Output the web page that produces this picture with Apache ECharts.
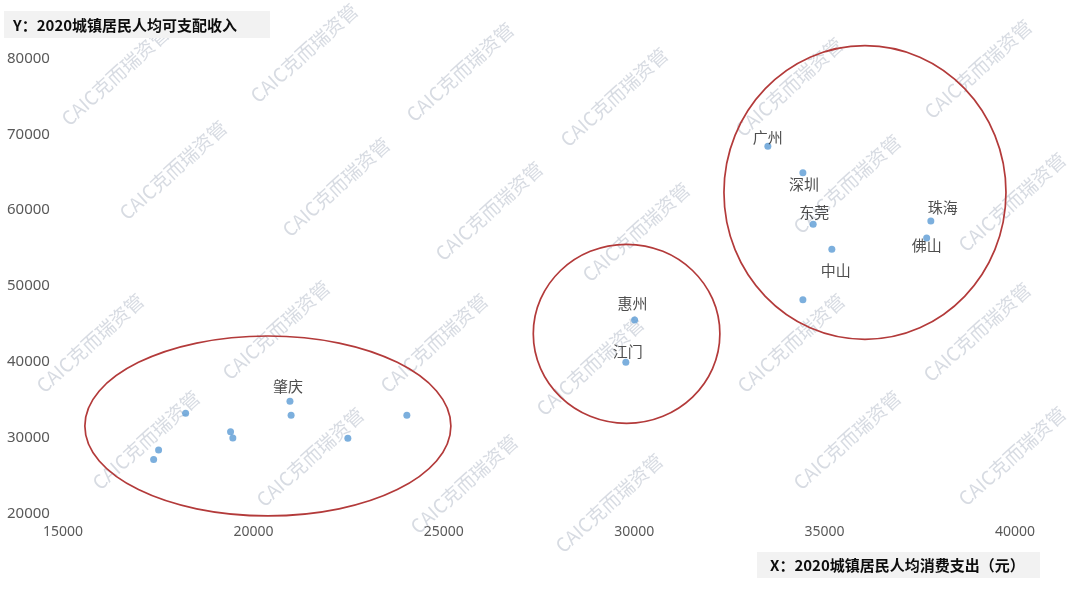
<!DOCTYPE html>
<html>
<head>
<meta charset="utf-8">
<script src="https://cdn.jsdelivr.net/npm/echarts@6/dist/echarts.min.js"></script>
<style>
html,body{margin:0;padding:0;background:#fff;}
#chart{width:1080px;height:593px;}
</style>
</head>
<body>
<div id="chart"></div>
<script>
// ---- data ----
const cityNames   = ['', '', '', '', '', '肇庆', '', '', '', '惠州', '江门', '广州', '深圳', '东莞', '中山', '', '珠海', '佛山'];
const consumption = [17380, 17510, 18220, 19400, 19460, 20960, 20990, 22480, 24030, 30010, 29780, 33510, 34430, 34700, 35190, 34430, 37790, 37680];
const income      = [27100, 28350, 33190, 30770, 29930, 34780, 32930, 29890, 32930, 45500, 39920, 68420, 64930, 58130, 54830, 48180, 58560, 56320];

// cluster ellipses (data units): centre x, centre y, radius x, radius y
const clusterCX = [20380, 29800, 36060];
const clusterCY = [31520, 43680, 62320];
const clusterRX = [4806, 2450, 3703];
const clusterRY = [11870, 11810, 19370];

const xTitle = 'X：2020城镇居民人均消费支出（元）';
const yTitle = 'Y：2020城镇居民人均可支配收入';
const watermarkText = 'CAIC克而瑞资管';

// ---- layout / style (kept out of data) ----
const labelOffset = {
  '广州': [0, -9], '深圳': [1, 12], '东莞': [1, -12], '中山': [4, 21],
  '珠海': [12, -14], '佛山': [0, 7], '惠州': [-2, -17], '江门': [2, -11], '肇庆': [-2, -15]
};
const watermarkPos = [
  [115,76],[304,53],[460,72],[173,170],[336,187],[489,211],
  [614,97],[789,87],[978,69],[636,232],[847,184],[1012,202],
  [90,343],[276,330],[434,343],[146,440],[310,457],[464,484],
  [590,366],[791,343],[977,332],[609,503],[847,440],[1012,456]
];

const pointData = consumption.map((x, i) => {
  const name = cityNames[i];
  const item = { value: [x, income[i]], name: name };
  if (name && labelOffset[name]) {
    item.label = { show: true, position: 'inside', offset: labelOffset[name], formatter: name };
  } else {
    item.label = { show: false };
  }
  return item;
});
const ellipseData = clusterCX.map((cx, i) => [cx, clusterCY[i], clusterRX[i], clusterRY[i]]);

const font = '"Noto Sans", "Noto Sans CJK SC", sans-serif';
const cjk = '"Noto Sans CJK SC", "Noto Sans", sans-serif';

const graphics = watermarkPos.map(p => ({
  type: 'text', x: p[0], y: p[1], rotation: 42 * Math.PI / 180, z: -10, silent: true,
  style: { text: watermarkText, fill: 'rgba(188,195,206,0.6)', font: '19px ' + cjk,
           textAlign: 'center', textVerticalAlign: 'middle' }
}));
graphics.push(
  { type: 'rect', shape: { x: 4, y: 11, width: 266, height: 27 }, style: { fill: '#f2f2f2' }, z: 5 },
  { type: 'text', x: 13, y: 25, z: 6, style: { text: yTitle, fill: '#0d0d0d', font: 'bold 15px ' + cjk, textVerticalAlign: 'middle' } },
  { type: 'rect', shape: { x: 757, y: 552, width: 283, height: 26 }, style: { fill: '#f2f2f2' }, z: 5 },
  { type: 'text', x: 770, y: 565, z: 6, style: { text: xTitle, fill: '#0d0d0d', font: 'bold 15px ' + cjk, textVerticalAlign: 'middle' } }
);

const plain = v => String(v);

const chart = echarts.init(document.getElementById('chart'), null, { renderer: 'canvas' });
chart.setOption({
  backgroundColor: '#ffffff',
  animation: false,
  grid: { left: 63, right: 65, top: 58.5, bottom: 79.7, containLabel: false },
  xAxis: {
    type: 'value', min: 15000, max: 40000, interval: 5000,
    axisLine: { show: false }, axisTick: { show: false }, splitLine: { show: false },
    axisLabel: { color: '#595959', fontSize: 14, fontFamily: font, margin: 12, formatter: plain }
  },
  yAxis: {
    type: 'value', min: 20000, max: 80000, interval: 10000,
    axisLine: { show: false }, axisTick: { show: false }, splitLine: { show: false },
    axisLabel: { color: '#595959', fontSize: 15, fontFamily: font, align: 'left', margin: 56, formatter: plain }
  },
  graphic: graphics,
  series: [
    {
      type: 'custom',
      coordinateSystem: 'cartesian2d',
      silent: true,
      clip: false,
      z: 1,
      data: ellipseData,
      renderItem: function (params, api) {
        const c = api.coord([api.value(0), api.value(1)]);
        const s = api.size([api.value(2), api.value(3)]);
        return {
          type: 'ellipse',
          shape: { cx: c[0], cy: c[1], rx: s[0], ry: s[1] },
          style: { fill: 'none', stroke: '#b33a3a', lineWidth: 1.7 }
        };
      }
    },
    {
      type: 'scatter',
      symbol: 'circle',
      symbolSize: 7,
      z: 3,
      itemStyle: { color: '#5b9bd5' },
      label: { color: '#222222', fontSize: 15, fontFamily: cjk },
      data: pointData
    }
  ]
});
</script>
</body>
</html>
